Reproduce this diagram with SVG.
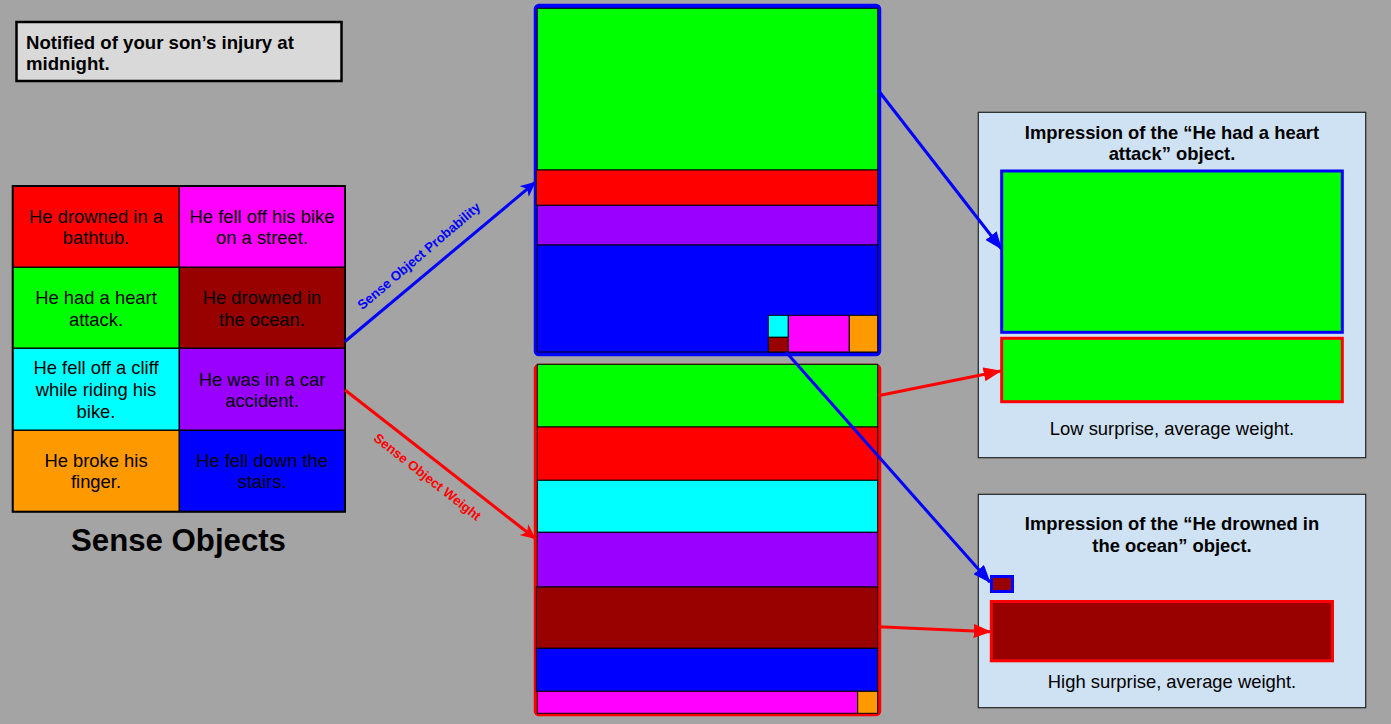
<svg xmlns="http://www.w3.org/2000/svg" width="1391" height="724" viewBox="0 0 1391 724">
<defs>
<style>
text{font-family:"Liberation Sans",Arial,sans-serif;fill:#000}
.t{font-size:18.4px;text-anchor:middle}
.b{font-weight:bold}
.cell{stroke:#000;stroke-width:1.2}
.bar{stroke:#000;stroke-width:1}
.panel{fill:#cfe2f3;stroke:#222;stroke-width:1.2}
.lb{stroke:#0000ff;stroke-width:3;fill:none}
.lr{stroke:#ff0000;stroke-width:3;fill:none}
</style>
<marker id="sb" markerUnits="userSpaceOnUse" markerWidth="16" markerHeight="14" refX="14" refY="7" orient="auto"><path d="M0,0 L15,7 L0,14 L4,7 Z" fill="#0000ff"/></marker>
<marker id="sr" markerUnits="userSpaceOnUse" markerWidth="16" markerHeight="14" refX="14" refY="7" orient="auto"><path d="M0,0 L15,7 L0,14 L4,7 Z" fill="#ff0000"/></marker>
<marker id="tb" markerUnits="userSpaceOnUse" markerWidth="18" markerHeight="14" refX="17" refY="7" orient="auto"><path d="M0,0 L18,7 L0,14 Z" fill="#0000ff"/></marker>
<marker id="tr" markerUnits="userSpaceOnUse" markerWidth="18" markerHeight="14" refX="17" refY="7" orient="auto"><path d="M0,0 L18,7 L0,14 Z" fill="#ff0000"/></marker>
</defs>
<rect x="0" y="0" width="1391" height="724" fill="#a4a4a4"/>

<g id="note">
<rect x="16.5" y="22" width="325" height="59" fill="#d9d9d9" stroke="#000" stroke-width="2.5"/>
<text class="b" x="26" y="48.7" font-size="18.6">Notified of your son’s injury at</text>
<text class="b" x="26" y="70.3" font-size="18.6">midnight.</text>
</g>

<g id="sense-objects">
<rect class="cell" x="12.7" y="186" width="166.6" height="81.3" fill="#ff0000"/>
<rect class="cell" x="179.3" y="186" width="165.7" height="81.3" fill="#ff00ff"/>
<rect class="cell" x="12.7" y="267.3" width="166.6" height="81" fill="#00ff00"/>
<rect class="cell" x="179.3" y="267.3" width="165.7" height="81" fill="#990000"/>
<rect class="cell" x="12.7" y="348.3" width="166.6" height="82" fill="#00ffff"/>
<rect class="cell" x="179.3" y="348.3" width="165.7" height="82" fill="#9900ff"/>
<rect class="cell" x="12.7" y="430.3" width="166.6" height="81.4" fill="#ff9900"/>
<rect class="cell" x="179.3" y="430.3" width="165.7" height="81.4" fill="#0000ff"/>
<rect x="12.7" y="186" width="332.3" height="325.7" fill="none" stroke="#000" stroke-width="2"/>
<text class="t" x="96" y="222.7">He drowned in a</text>
<text class="t" x="96" y="244.3">bathtub.</text>
<text class="t" x="262" y="222.7">He fell off his bike</text>
<text class="t" x="262" y="244.3">on a street.</text>
<text class="t" x="96" y="304">He had a heart</text>
<text class="t" x="96" y="325.7">attack.</text>
<text class="t" x="262" y="304">He drowned in</text>
<text class="t" x="262" y="325.7">the ocean.</text>
<text class="t" x="96" y="374.3">He fell off a cliff</text>
<text class="t" x="96" y="396">while riding his</text>
<text class="t" x="96" y="417.7">bike.</text>
<text class="t" x="262" y="385.7">He was in a car</text>
<text class="t" x="262" y="407.3">accident.</text>
<text class="t" x="96" y="466.7">He broke his</text>
<text class="t" x="96" y="488.3">finger.</text>
<text class="t" x="262" y="466.7">He fell down the</text>
<text class="t" x="262" y="488.3">stairs.</text>
<text class="b" x="178.5" y="550.5" font-size="31.2" text-anchor="middle">Sense Objects</text>
</g>

<g id="probability-box">
<rect x="536" y="6" width="343" height="348" rx="3" fill="#0000ff" stroke="#0000ff" stroke-width="4.5"/>
<rect class="bar" x="537.3" y="8.3" width="340.4" height="161.7" fill="#00ff00"/>
<rect class="bar" x="536.3" y="170" width="341.4" height="35.3" fill="#ff0000"/>
<rect class="bar" x="537.3" y="205.3" width="340.4" height="39.7" fill="#9900ff"/>
<rect class="bar" x="537.3" y="245" width="340.4" height="107" fill="#0000ff"/>
<rect class="bar" x="768.3" y="315.3" width="20" height="22" fill="#00ffff"/>
<rect class="bar" x="768.3" y="337.3" width="20" height="14.7" fill="#990000"/>
<rect class="bar" x="788.3" y="315.3" width="61" height="36.7" fill="#ff00ff"/>
<rect class="bar" x="849.3" y="315.3" width="28.4" height="36.7" fill="#ff9900"/>
</g>

<g id="weight-box">
<rect x="536" y="366" width="343" height="348" rx="3" fill="#ff0000" stroke="#ff0000" stroke-width="4.5"/>
<rect class="bar" x="537.3" y="364.3" width="340.4" height="62.7" fill="#00ff00"/>
<rect class="bar" x="537.3" y="427" width="340.4" height="53.3" fill="#ff0000"/>
<rect class="bar" x="537.3" y="480.3" width="340.4" height="52" fill="#00ffff"/>
<rect class="bar" x="537.3" y="532.3" width="340.4" height="54.7" fill="#9900ff"/>
<rect class="bar" x="536.3" y="587" width="341.4" height="61.3" fill="#990000"/>
<rect class="bar" x="536.3" y="648.3" width="341.4" height="43" fill="#0000ff"/>
<rect class="bar" x="537.3" y="691.3" width="320.4" height="22" fill="#ff00ff"/>
<rect class="bar" x="857.7" y="691.3" width="20" height="22" fill="#ff9900"/>
</g>

<g id="impression-heart">
<rect class="panel" x="978.3" y="112.3" width="387.4" height="345.4"/>
<text class="b t" x="1172" y="138.5">Impression of the “He had a heart</text>
<text class="b t" x="1172" y="160.3">attack” object.</text>
<rect x="1001.7" y="171" width="340.6" height="161.3" fill="#00ff00" stroke="#0000ff" stroke-width="3"/>
<rect x="1001.7" y="338.3" width="340.6" height="63.4" fill="#00ff00" stroke="#ff0000" stroke-width="3"/>
<text class="t" x="1172" y="435">Low surprise, average weight.</text>
</g>

<g id="impression-ocean">
<rect class="panel" x="978.3" y="494.3" width="387.4" height="213.4"/>
<text class="b t" x="1172" y="530">Impression of the “He drowned in</text>
<text class="b t" x="1172" y="551.7">the ocean” object.</text>
<rect x="991.5" y="576.5" width="21" height="15" fill="#990000" stroke="#0000ff" stroke-width="3"/>
<rect x="991.3" y="601.5" width="341.2" height="59.3" fill="#990000" stroke="#ff0000" stroke-width="3"/>
<text class="t" x="1172" y="687.7">High surprise, average weight.</text>
</g>

<g id="connectors">
<line class="lb" x1="345" y1="341.5" x2="535" y2="182.5" marker-end="url(#sb)"/>
<line class="lr" x1="345" y1="390" x2="535" y2="538.3" marker-end="url(#sr)"/>
<line class="lb" x1="878" y1="90" x2="1001.5" y2="249" marker-end="url(#tb)"/>
<line class="lr" x1="878" y1="395.7" x2="1000.7" y2="371" marker-end="url(#tr)"/>
<line class="lb" x1="786" y1="352" x2="990" y2="582.3" marker-end="url(#tb)"/>
<line class="lr" x1="878" y1="626.7" x2="990.7" y2="631.7" marker-end="url(#tr)"/>
<text class="b" transform="translate(419,256) rotate(-40.5)" x="0" y="4.5" font-size="13.3" text-anchor="middle" style="fill:#0000ff">Sense Object Probability</text>
<text class="b" transform="translate(427.5,477) rotate(38.2)" x="0" y="4.5" font-size="13.3" text-anchor="middle" style="fill:#ff0000">Sense Object Weight</text>
</g>
</svg>
